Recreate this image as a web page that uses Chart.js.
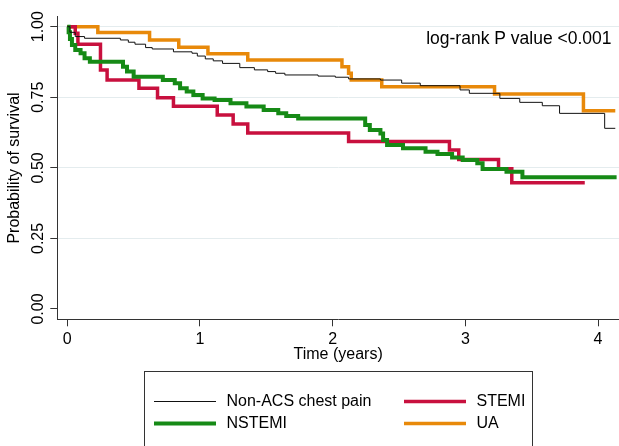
<!DOCTYPE html>
<html>
<head>
<meta charset="utf-8">
<script src="https://cdn.jsdelivr.net/npm/chart.js@4.4.1/dist/chart.umd.min.js"></script>
<style>
  html, body { margin: 0; padding: 0; background: #fff; }
  canvas { display: block; }
</style>
</head>
<body>
<canvas id="grafico" width="619" height="446"></canvas>
<script>
// Curvas de Kaplan-Meier (tiempo en años, probabilidad de supervivencia)
const tiempoNoAcs = [0, 0.02, 0.06, 0.13, 0.40, 0.46, 0.51, 0.59, 0.64, 0.80, 0.94, 0.98, 1.04, 1.10, 1.17, 1.30, 1.41, 1.51, 1.57, 1.64, 1.89, 2.02, 2.12, 2.36, 2.52, 2.66, 2.96, 3.03, 3.26, 3.41, 3.58, 3.71, 4.05, 4.13];
const survNoAcs = [1, 0.98, 0.965, 0.959, 0.953, 0.945, 0.938, 0.926, 0.921, 0.911, 0.906, 0.896, 0.886, 0.879, 0.870, 0.855, 0.847, 0.841, 0.835, 0.829, 0.825, 0.821, 0.815, 0.811, 0.800, 0.791, 0.776, 0.764, 0.746, 0.732, 0.720, 0.693, 0.640, 0.640];

const tiempoStemi = [0, 0.06, 0.08, 0.25, 0.30, 0.54, 0.68, 0.80, 1.13, 1.25, 1.36, 2.12, 2.88, 2.95, 3.25, 3.35, 3.90];
const survStemi = [1, 0.977, 0.938, 0.847, 0.811, 0.782, 0.748, 0.718, 0.687, 0.655, 0.623, 0.593, 0.563, 0.530, 0.497, 0.447, 0.447];

const tiempoNstemi = [0, 0.01, 0.02, 0.035, 0.06, 0.10, 0.13, 0.17, 0.42, 0.45, 0.50, 0.72, 0.81, 0.85, 0.90, 0.95, 1.02, 1.11, 1.23, 1.35, 1.48, 1.59, 1.65, 1.74, 2.245, 2.28, 2.36, 2.38, 2.41, 2.53, 2.70, 2.79, 2.90, 2.98, 3.09, 3.13, 3.31, 3.43, 4.14];
const survNstemi = [1, 0.98, 0.956, 0.935, 0.917, 0.906, 0.888, 0.876, 0.858, 0.841, 0.823, 0.811, 0.800, 0.782, 0.770, 0.758, 0.746, 0.740, 0.729, 0.717, 0.705, 0.693, 0.684, 0.675, 0.652, 0.634, 0.622, 0.599, 0.581, 0.569, 0.557, 0.549, 0.537, 0.528, 0.516, 0.496, 0.486, 0.467, 0.467];

const tiempoUa = [0, 0.23, 0.62, 0.84, 1.06, 1.36, 2.07, 2.12, 2.14, 2.37, 3.22, 3.89, 4.13];
const survUa = [1, 0.979, 0.953, 0.927, 0.904, 0.882, 0.858, 0.835, 0.811, 0.787, 0.762, 0.702, 0.702];

const nombres = ['Non-ACS chest pain', 'NSTEMI', 'STEMI', 'UA'];
const ticksX = [0, 1, 2, 3, 4];
const ticksY = [0, 0.25, 0.5, 0.75, 1];
const etiquetasY = ['0.00', '0.25', '0.50', '0.75', '1.00'];
const nota = 'log-rank P value <0.001';

const FUENTE = "'Liberation Sans', Arial, Helvetica, sans-serif";
Chart.defaults.font.family = FUENTE;
Chart.defaults.color = '#000';

function puntos(ts, ss) {
    return ts.map((t, i) => ({ x: t, y: ss[i] }));
}

// Etiquetas del eje Y giradas, nota y leyenda con recuadro
const extras = {
    id: 'extras',
    afterDraw(chart) {
        const ctx = chart.ctx;
        const escalaY = chart.scales.y;
        ctx.save();
        ctx.fillStyle = '#000';
        ctx.font = '16px ' + FUENTE;
        ctx.textAlign = 'center';
        ctx.textBaseline = 'middle';
        ticksY.forEach((v, i) => {
            const y = escalaY.getPixelForValue(v);
            ctx.save();
            ctx.translate(39, y);
            ctx.rotate(-Math.PI / 2);
            ctx.fillText(etiquetasY[i], 0, 0);
            ctx.restore();
        });

        // nota del log-rank
        ctx.font = '17.5px ' + FUENTE;
        ctx.textAlign = 'right';
        ctx.fillText(nota, 611.5, 39);

        // leyenda
        ctx.strokeStyle = '#333';
        ctx.lineWidth = 1;
        ctx.strokeRect(144.5, 371.5, 388, 120);
        const orden = [0, 2, 1, 3];
        const cols = [154, 404];
        const filas = [401.5, 423.5];
        ctx.font = '16px ' + FUENTE;
        ctx.textAlign = 'left';
        orden.forEach((idx, k) => {
            const ds = chart.data.datasets[idx];
            const x = cols[k % 2];
            const y = filas[Math.floor(k / 2)];
            ctx.strokeStyle = ds.borderColor;
            ctx.lineWidth = ds.borderWidth;
            ctx.beginPath();
            ctx.moveTo(x, y);
            ctx.lineTo(x + 62, y);
            ctx.stroke();
            ctx.fillText(ds.label, x + 72.5, y);
        });
        ctx.restore();
    }
};

const contexto = document.getElementById('grafico').getContext('2d');
const grafico = new Chart(contexto, {
    type: 'line',
    data: {
        datasets: [
            { label: nombres[0], data: puntos(tiempoNoAcs, survNoAcs), borderColor: '#111111', borderWidth: 1, stepped: 'before' },
            { label: nombres[1], data: puntos(tiempoNstemi, survNstemi), borderColor: '#168a16', borderWidth: 4, stepped: 'before' },
            { label: nombres[2], data: puntos(tiempoStemi, survStemi), borderColor: '#c8103e', borderWidth: 3.5, stepped: 'before' },
            { label: nombres[3], data: puntos(tiempoUa, survUa), borderColor: '#e8890a', borderWidth: 3.5, stepped: 'before' }
        ]
    },
    options: {
        responsive: false,
        animation: false,
        devicePixelRatio: 1,
        parsing: false,
        elements: { point: { radius: 0 }, line: { tension: 0, fill: false } },
        layout: { padding: { top: 16.7, bottom: 81.7, left: 0, right: 0 } },
        plugins: { legend: { display: false }, tooltip: { enabled: false } },
        scales: {
            x: {
                type: 'linear',
                min: -0.0754,
                max: 4.158,
                afterBuildTicks: s => { s.ticks = ticksX.map(v => ({ value: v })); },
                afterFit: s => { s.height = 45; },
                ticks: { font: { size: 16 }, color: '#000', padding: 4, callback: v => String(v) },
                grid: { drawOnChartArea: false, drawTicks: true, tickLength: 7, tickColor: '#333' },
                border: { display: true, color: '#333', width: 1 },
                title: { display: true, text: 'Time (years)', font: { size: 16 }, color: '#000', padding: { top: 0, bottom: 0 } }
            },
            y: {
                type: 'linear',
                min: -0.0365,
                max: 1.0354,
                afterBuildTicks: s => { s.ticks = ticksY.map(v => ({ value: v })); },
                afterFit: s => { s.width = 57.3; },
                ticks: { display: false },
                grid: {
                    color: c => (c.tick && c.tick.value === 0) ? 'rgba(0,0,0,0)' : '#e4ecee',
                    lineWidth: 1,
                    drawTicks: true,
                    tickLength: 7,
                    tickColor: '#333'
                },
                border: { display: true, color: '#333', width: 1 },
                title: { display: true, text: 'Probability of survival', font: { size: 16 }, color: '#000', padding: { top: 5, bottom: 0 } }
            }
        }
    },
    plugins: [extras]
});
</script>
</body>
</html>
